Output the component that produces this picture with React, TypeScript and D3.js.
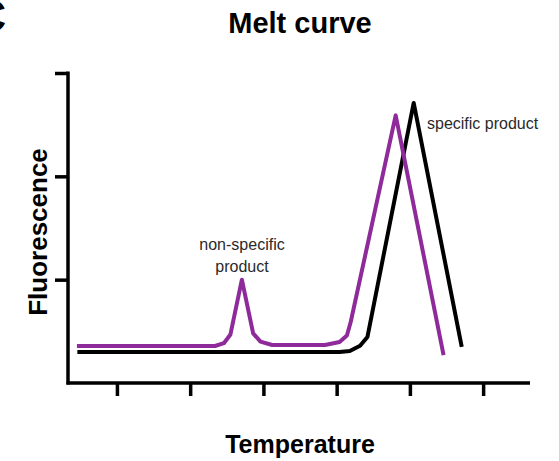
import React, { useEffect, useRef } from "react";
import * as d3 from "d3";

// temperature (°C) / fluorescence (a.u.)
const specificTemp = [62.3, 80.2, 80.9, 81.6, 82.1, 85.26, 88.54];
const specificFluo = [0.3, 0.3, 0.31, 0.36, 0.445, 2.71, 0.35];

const mixedTemp = [62.27, 71.7, 72.3, 72.75, 73.53, 74.3, 74.8, 75.6, 79.2, 80.2, 80.7, 80.96, 84.03, 87.3];
const mixedFluo = [0.358, 0.358, 0.385, 0.47, 1.0, 0.48, 0.4, 0.368, 0.368, 0.397, 0.46, 0.59, 2.59, 0.27];

const xTicks = [65, 70, 75, 80, 85, 90];
const yTicks = [1, 2, 3];

const FONT = "'Liberation Sans', Arial, Helvetica, sans-serif";

const drawChart = (node: SVGSVGElement) => {
    const width = 559;
    const height = 461;
    const svg = d3.select(node);
    svg.selectAll("*").remove();
    svg.attr("width", width).attr("height", height);

    const x = d3.scaleLinear().domain([61.66, 93.2]).range([68, 530]);
    const y = d3.scaleLinear().domain([0, 3]).range([383, 73]);

    // panel letter, cut by the left edge as in the source figure
    svg.append("text")
        .attr("x", -27)
        .attr("y", 32)
        .style("font-family", FONT)
        .style("font-weight", "bold")
        .style("font-size", "46px")
        .text("C");

    svg.append("text")
        .attr("x", 300)
        .attr("y", 33)
        .attr("text-anchor", "middle")
        .style("font-family", FONT)
        .style("font-weight", "bold")
        .style("font-size", "29px")
        .text("Melt curve");

    const xAxis = svg.append("g")
        .attr("transform", `translate(0,${y(0)})`)
        .call(d3.axisBottom(x).tickValues(xTicks).tickSize(13).tickFormat(() => "").tickSizeOuter(0));
    const yAxis = svg.append("g")
        .attr("transform", `translate(${x(61.66)},0)`)
        .call(d3.axisLeft(y).tickValues(yTicks).tickSize(13).tickFormat(() => "").tickSizeOuter(0));
    [xAxis, yAxis].forEach((g) => {
        g.select(".domain").attr("stroke-width", 3.5).attr("stroke", "#000");
        g.selectAll(".tick line").attr("stroke-width", 3.5).attr("stroke", "#000");
    });
    xAxis.select(".domain").attr("d", `M${x(61.66) - 1.5},0H${x(93.2)}`);
    yAxis.select(".domain").attr("d", `M0,${y(3) - 1.5}V${y(0) + 1.5}`);

    const specific = specificTemp.map((t, i) => [t, specificFluo[i]] as [number, number]);
    const mixed = mixedTemp.map((t, i) => [t, mixedFluo[i]] as [number, number]);

    const path = d3.line<[number, number]>().x((d) => x(d[0])).y((d) => y(d[1]));

    svg.append("path")
        .attr("d", path(specific))
        .attr("fill", "none")
        .attr("stroke", "#000")
        .attr("stroke-width", 4)
        .attr("stroke-linejoin", "round");

    svg.append("path")
        .attr("d", path(mixed))
        .attr("fill", "none")
        .attr("stroke", "#8e2a9a")
        .attr("stroke-width", 4)
        .attr("stroke-linejoin", "round");

    const label = (tx: number, ty: number, txt: string, anchor: string) =>
        svg.append("text")
            .attr("x", tx)
            .attr("y", ty)
            .attr("text-anchor", anchor)
            .style("font-family", FONT)
            .style("font-size", "16px")
            .style("fill", "#2a2a2a")
            .text(txt);

    label(242, 250, "non-specific", "middle");
    label(242, 272, "product", "middle");
    label(427, 129, "specific product", "start");

    svg.append("text")
        .attr("transform", `translate(47,232) rotate(-90)`)
        .attr("text-anchor", "middle")
        .style("font-family", FONT)
        .style("font-weight", "bold")
        .style("font-size", "26px")
        .text("Fluorescence");

    svg.append("text")
        .attr("x", 300)
        .attr("y", 453)
        .attr("text-anchor", "middle")
        .style("font-family", FONT)
        .style("font-weight", "bold")
        .style("font-size", "25px")
        .text("Temperature");
};

export default function App() {
    const svgRef = useRef<SVGSVGElement>(null);

    useEffect(() => {
        if (svgRef.current) drawChart(svgRef.current);
    }, []);

    return (
        <svg
            ref={svgRef}
            style={{ position: "absolute", left: 0, top: 0, background: "#fff" }}
        />
    );
}
